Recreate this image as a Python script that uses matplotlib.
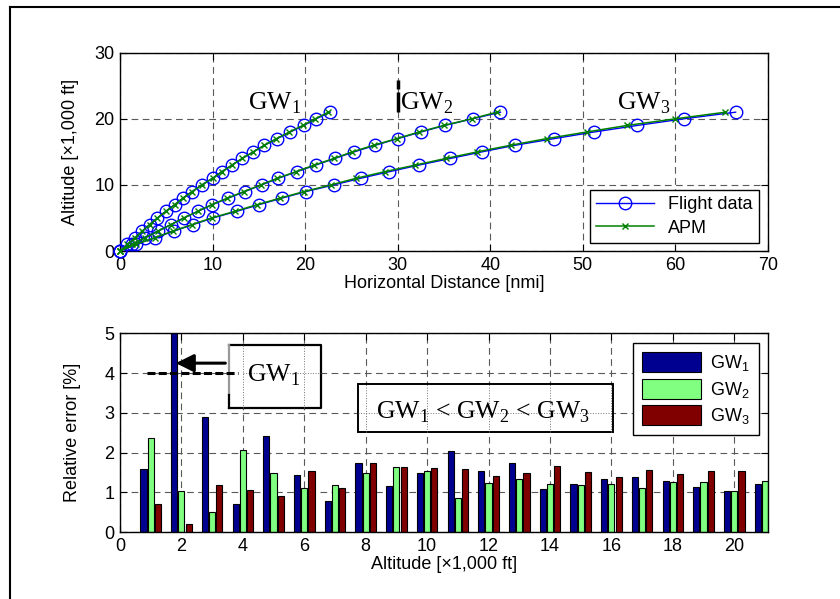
import matplotlib
matplotlib.use('Agg')
import matplotlib.pyplot as plt
import numpy as np
from matplotlib.patches import Rectangle, FancyArrowPatch
from matplotlib.lines import Line2D

plt.rcParams['font.family'] = ['Liberation Sans', 'DejaVu Sans']
plt.rcParams['font.size'] = 13

# ---------------- data ----------------
altitudes = list(range(22))  # x1,000 ft

flight_gw1 = [0, 0.8, 1.6, 2.4, 3.2, 4.05, 4.95, 5.9, 6.8, 7.8, 8.85, 10.0, 11.0,
              12.1, 13.2, 14.4, 15.6, 17.0, 18.4, 19.85, 21.2, 22.7]
flight_gw2 = [0, 1.3, 2.7, 4.1, 5.5, 6.9, 8.4, 9.95, 11.7, 13.5, 15.3, 17.1, 19.1,
              21.15, 23.2, 25.3, 27.6, 30.0, 32.5, 35.1, 38.1, 41.1]
flight_gw3 = [0, 1.7, 3.8, 5.8, 7.9, 10.05, 12.6, 15.0, 17.5, 20.1, 23.1, 26.0, 29.1,
              32.3, 35.7, 39.1, 42.7, 46.9, 51.2, 55.9, 60.9, 66.5]

apm_gw1 = [0, 0.8, 1.6, 2.4, 3.2, 4.05, 4.95, 5.9, 6.8, 7.8, 8.85, 10.0, 11.0,
           12.1, 13.2, 14.4, 15.6, 16.9, 18.3, 19.75, 21.1, 22.5]
apm_gw2 = [0, 1.3, 2.7, 4.1, 5.5, 6.9, 8.4, 9.9, 11.6, 13.4, 15.2, 17.0, 19.0,
           21.0, 23.1, 25.1, 27.4, 29.9, 32.3, 35.0, 38.0, 40.7]
apm_gw3 = [0, 1.7, 3.75, 5.7, 7.8, 9.9, 12.4, 14.8, 17.3, 19.9, 22.8, 25.5, 28.6,
           31.9, 35.2, 38.6, 42.2, 46.1, 50.4, 54.8, 60.0, 65.4]

err_alt = list(range(1, 22))  # x1,000 ft
err_gw1 = [1.58, 6.0, 2.90, 0.70, 2.41, 1.44, 0.78, 1.73, 1.16, 1.48, 2.04,
           1.55, 1.73, 1.08, 1.22, 1.33, 1.40, 1.29, 1.15, 1.05, 1.22]
err_gw2 = [2.36, 1.05, 0.52, 2.08, 1.48, 1.12, 1.19, 1.48, 1.65, 1.55, 0.87,
           1.23, 1.34, 1.21, 1.18, 1.21, 1.11, 1.26, 1.26, 1.05, 1.29]
err_gw3 = [0.70, 0.20, 1.19, 1.06, 0.91, 1.55, 1.12, 1.73, 1.65, 1.62, 1.58,
           1.41, 1.48, 1.67, 1.51, 1.40, 1.57, 1.47, 1.54, 1.54, 1.50]

gw_labels = ['GW$_\\mathregular{1}$', 'GW$_\\mathregular{2}$', 'GW$_\\mathregular{3}$']

# ---------------- figure ----------------
W, H = 840, 599
fig = plt.figure(figsize=(8.4, 5.99), dpi=100)

# partial outer frame (left and top)
fig.add_artist(Line2D([10 / W, 10 / W], [0, 1 - 7 / H], transform=fig.transFigure,
                      color='black', lw=1.5))
fig.add_artist(Line2D([10 / W, 1], [1 - 7 / H, 1 - 7 / H], transform=fig.transFigure,
                      color='black', lw=1.5))

grid_kw = dict(linestyle=(0, (6, 4)), color='0.35', lw=0.8)
blue = (0, 0, 1)
green = (0, 0.5, 0)
serif = ['Liberation Serif', 'DejaVu Serif']
sfs = 18.5

# ---- top axes ----
ax1 = fig.add_axes([120 / W, 1 - 251 / H, 648 / W, 198.3 / H])
for fx in (flight_gw1, flight_gw2, flight_gw3):
    ax1.plot(fx, altitudes, '-o', color=blue, mfc='none', ms=9, lw=1, mew=1,
             clip_on=False, zorder=3)
for ax_ in (apm_gw1, apm_gw2, apm_gw3):
    ax1.plot(ax_, altitudes, '-x', color=green, ms=5, lw=1.1, mew=1,
             clip_on=False, zorder=4)
ax1.set_xlim(0, 70)
ax1.set_ylim(0, 30)
ax1.set_xticks(range(0, 71, 10))
ax1.set_yticks(range(0, 31, 10))
ax1.grid(True, **grid_kw)
ax1.set_axisbelow(True)
ax1.tick_params(direction='in', top=True, right=True, length=5, width=0.8, pad=4)
ax1.set_xlabel('Horizontal Distance [nmi]', labelpad=1)
ax1.set_ylabel('Altitude [×1,000 ft]', labelpad=11)
for s in ax1.spines.values():
    s.set_linewidth(1.0)

h_fd = Line2D([], [], color=blue, marker='o', mfc='none', ms=9, lw=1)
h_apm = Line2D([], [], color=green, marker='x', ms=5, lw=1.1)
leg1 = ax1.legend([h_fd, h_apm], ['Flight data', 'APM'], loc='lower right',
                  bbox_to_anchor=(0.986, 0.04), borderaxespad=0, fancybox=False,
                  framealpha=1, edgecolor='black', handlelength=3.2, fontsize=13,
                  labelspacing=0.35, borderpad=0.35)
leg1.get_frame().set_linewidth(1.0)

ax1.text(13.8, 21.4, gw_labels[0], family=serif, fontsize=sfs, va='baseline', ha='left')
ax1.text(30.25, 21.4, gw_labels[1], family=serif, fontsize=sfs, va='baseline', ha='left')
ax1.text(53.7, 21.4, gw_labels[2], family=serif, fontsize=sfs, va='baseline', ha='left')
ax1.plot([30, 30], [21.1, 24.1], color='black', lw=2.5, solid_capstyle='butt', zorder=5)
ax1.plot([30, 30], [24.5, 25.8], color='black', lw=2.5, solid_capstyle='butt', zorder=5)

# ---- bottom axes ----
ax2 = fig.add_axes([120 / W, 1 - 532.3 / H, 648 / W, 199 / H])
xa = np.array(err_alt)
cols = ['#000090', '#80FF80', '#800000']
for off, vals, c, lab in zip((-0.235, 0, 0.235), (err_gw1, err_gw2, err_gw3), cols, gw_labels):
    ax2.bar(xa + off, vals, 0.2, color=c, edgecolor='black', lw=0.8, label=lab, zorder=2)
ax2.set_xlim(0, 21.1)
ax2.set_ylim(0, 5)
ax2.set_xticks(range(0, 21, 2))
ax2.set_yticks(range(0, 6))
ax2.grid(True, **grid_kw)
ax2.set_axisbelow(True)
ax2.tick_params(direction='in', top=True, right=True, length=5, width=0.8, pad=4)
ax2.set_xlabel('Altitude [×1,000 ft]', labelpad=1)
ax2.set_ylabel('Relative error [%]', labelpad=17)
for s in ax2.spines.values():
    s.set_linewidth(1.0)

leg2 = ax2.legend(loc='upper right', bbox_to_anchor=(0.986, 0.951), borderaxespad=0,
                  fancybox=False, framealpha=1, edgecolor='black', handlelength=3.3,
                  handleheight=1.35, fontsize=13, labelspacing=0.3, borderpad=0.5,
                  handletextpad=0.5)
leg2.get_frame().set_linewidth(1.0)

# annotation box 1
b1x0, b1x1, b1y0, b1y1 = 3.55, 6.55, 3.12, 4.71
ax2.add_patch(Rectangle((b1x0, b1y0), b1x1 - b1x0, b1y1 - b1y0, fc='white', ec='none', zorder=5))
ax2.plot([b1x0, b1x1, b1x1, b1x0], [b1y1, b1y1, b1y0, b1y0], color='black', lw=1.6, zorder=6)
ax2.plot([b1x0, b1x0], [b1y1, 3.45], color='0.6', lw=1.6, zorder=6)
ax2.plot([b1x0, b1x0], [3.45, b1y0], color='black', lw=1.6, zorder=6)
for gx in (4, 6):
    ax2.plot([gx, gx], [b1y0, b1y1], ls=':', color='0.45', lw=0.7, zorder=6)
ax2.plot([4.0, b1x1], [4, 4], ls=':', color='0.45', lw=0.7, zorder=6)
ax2.text(4.12, 3.8, gw_labels[0], family=serif, fontsize=sfs, va='baseline', ha='left', zorder=7)
ax2.plot([0.88, 3.85], [4, 4], color='black', lw=2.2, dashes=(2.6, 1.1), zorder=7)
arr = FancyArrowPatch((3.52, 4.25), (1.73, 4.25),
                      arrowstyle='-|>,head_length=0.9,head_width=0.45',
                      mutation_scale=12, lw=2.2, color='black', zorder=8)
ax2.add_patch(arr)

# annotation box 2
b2x0, b2x1, b2y0, b2y1 = 7.75, 16.06, 2.52, 3.73
ax2.add_patch(Rectangle((b2x0, b2y0), b2x1 - b2x0, b2y1 - b2y0, fc='white', ec='black',
                        lw=1.4, zorder=5))
for gx in (8, 10, 12, 14, 16):
    ax2.plot([gx, gx], [b2y0, b2y1], ls=':', color='0.45', lw=0.7, zorder=6)
ax2.plot([b2x0, b2x1], [3, 3], ls=':', color='0.45', lw=0.7, zorder=6)
ax2.text(8.35, 2.86, gw_labels[0] + ' < ' + gw_labels[1] + ' < ' + gw_labels[2],
         family=serif, fontsize=sfs, va='baseline', ha='left', zorder=7)

fig.savefig('out.png', dpi=100)
